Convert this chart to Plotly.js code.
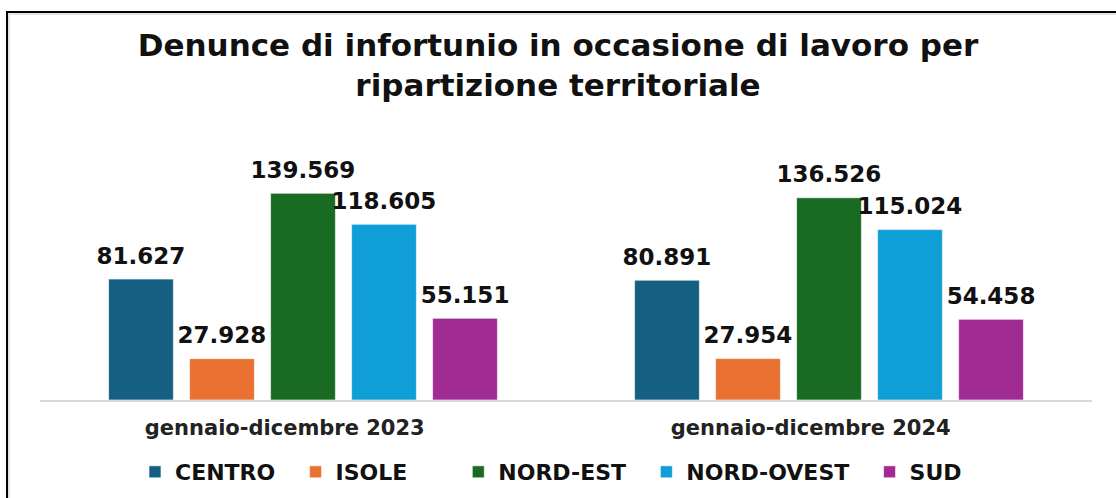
<!DOCTYPE html>
<html>
<head>
<meta charset="utf-8">
<script src="https://cdn.plot.ly/plotly-3.0.1.min.js"></script>
<style>
  html, body { margin: 0; padding: 0; background: #fff; }
  #wrap { position: relative; width: 1116px; height: 498px; overflow: hidden; background: #fff; }
  #chart { position: absolute; left: 0; top: 0; width: 1116px; height: 498px; }
  #frame { position: absolute; left: 6px; top: 11px; width: 1300px; height: 700px;
           border-left: 2px solid #000; border-top: 2px solid #000;
           box-shadow: inset 2px 2px 0 #e4e4e4; pointer-events: none; }
</style>
</head>
<body>
<div id="wrap">
  <div id="chart"></div>
  <div id="frame"></div>
</div>
<script>
const periods = ['gennaio-dicembre 2023', 'gennaio-dicembre 2024'];
const regions = ['CENTRO', 'ISOLE', 'NORD-EST', 'NORD-OVEST', 'SUD'];
const centro = [81627, 80891];
const isole = [27928, 27954];
const nordEst = [139569, 136526];
const nordOvest = [118605, 115024];
const sud = [55151, 54458];
const colors = ['#156082', '#E97132', '#196B24', '#0F9ED5', '#A02B93'];

const seriesValues = [centro, isole, nordEst, nordOvest, sud];
const fmtIt = v => String(v).replace(/\B(?=(\d{3})+(?!\d))/g, '.');
const NB = '\u00a0';
const legendPad = [2, 6, 2, 2, 0];

const traces = [];
regions.forEach((r, i) => {
  traces.push({
    type: 'bar', name: r + NB.repeat(legendPad[i]),
    x: periods, y: seriesValues[i],
    marker: { color: colors[i], line: { color: 'rgba(255,255,255,0.6)', width: 1 } },
    hoverinfo: 'skip'
  });
});
regions.forEach((r, i) => {
  traces.push({
    type: 'scatter', mode: 'markers+text', name: r + ' label', showlegend: false,
    x: periods, y: seriesValues[i],
    text: seriesValues[i].map(fmtIt),
    textposition: 'top center',
    marker: { size: 14, opacity: 0 },
    textfont: { family: 'DejaVu Sans', size: 23, color: '#111', weight: 'bold' },
    cliponaxis: false, hoverinfo: 'skip'
  });
});

const mT = 163, mB = 98;
const plotH = 498 - mT - mB;
const layout = {
  width: 1116, height: 498,
  margin: { l: 40, r: 24, t: mT, b: mB, autoexpand: false },
  paper_bgcolor: 'rgba(0,0,0,0)', plot_bgcolor: 'rgba(0,0,0,0)',
  barmode: 'group', bargap: 0.23, bargroupgap: 0.2,
  scattermode: 'group', scattergap: 0.23,
  title: {
    text: 'Denunce di infortunio in occasione di lavoro per<br>ripartizione territoriale',
    font: { family: 'DejaVu Sans', size: 31, color: '#111', weight: 'bold' },
    x: 0.5, xanchor: 'center', y: 1 - 56 / 498, yref: 'container', yanchor: 'middle'
  },
  xaxis: {
    type: 'category', showgrid: false, zeroline: false,
    showline: true, linecolor: '#d9d9d9', linewidth: 2,
    ticks: 'outside', ticklen: 8, tickcolor: 'rgba(0,0,0,0)',
    tickvals: periods,
    ticktext: periods.map(p => p + NB.repeat(5)),
    tickfont: { family: 'DejaVu Sans', size: 21, color: '#222', weight: 'bold' }
  },
  yaxis: {
    range: [0, 160000], visible: false, showgrid: false, zeroline: false
  },
  showlegend: true,
  legend: {
    orientation: 'h', x: (551 - 40) / 1052, xanchor: 'center', y: -72 / plotH, yanchor: 'middle',
    font: { family: 'DejaVu Sans', size: 22, color: '#111', weight: 'bold' },
    itemwidth: 30,
    itemclick: false, itemdoubleclick: false, traceorder: 'normal'
  },
  hovermode: false
};

Plotly.newPlot('chart', traces, layout, { displayModeBar: false, staticPlot: true });
</script>
</body>
</html>
